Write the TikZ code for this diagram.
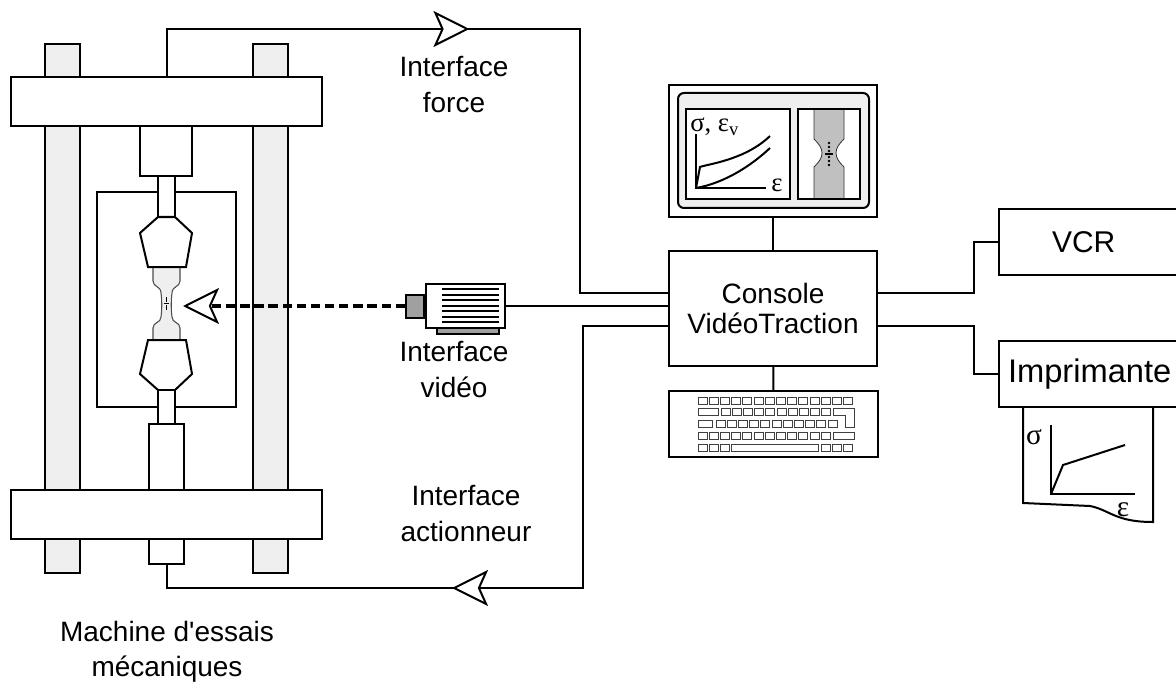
\documentclass[tikz,border=0pt]{standalone}
\usepackage{fontspec}
\setmainfont{Liberation Sans}[Ligatures=TeXOff]
\newfontfamily\greekfont{Liberation Serif}
\usetikzlibrary{arrows.meta}
\usetikzlibrary{calc}
\usetikzlibrary{decorations.markings}
\newcommand{\unitpx}{0.75pt}
\definecolor{framegray}{RGB}{239,239,239}
\definecolor{lensgray}{RGB}{160,160,160}
\definecolor{screengray}{RGB}{192,192,192}
\tikzset{
    OpenHead/.tip={Stealth[length=27pt,width=27pt,inset=6pt,fill=white,line width=1.5pt]},
    link/.style={line width=1.5pt},
    part/.style={draw,line width=1.5pt,fill=white,inner sep=0pt},
    box/.style={part,font=\fontsize{21}{22}\selectfont,align=center},
    lbl/.style={font=\fontsize{21}{27}\selectfont,align=center},
    sym/.style={inner sep=0pt,font=\fontsize{20}{20}\selectfont\greekfont},
    key/.style={draw=black!75,line width=0.6pt},
    flow arrow/.style={
        postaction={
            decorate,decoration={
                markings,mark=at position #1 with {\arrow{OpenHead}}
            }
        }
    },
}

\begin{document}
\begin{tikzpicture}[x=\unitpx,y=-\unitpx]
\useasboundingbox (0,0) rectangle (1176,684);
\clip (0,0) rectangle (1176,684);
% testing machine
\draw[part,fill=framegray] (45,44) rectangle (80,573);
\draw[part,fill=framegray] (253,44) rectangle (288,573);
\node[part,minimum width=311*\unitpx,minimum height=49*\unitpx] (crosstop) at (166.5,101.5) {};
\node[part,minimum width=311*\unitpx,minimum height=49*\unitpx] (crossbot) at (166.5,514.5) {};
\draw[part] (140,126) rectangle (192,176);
\draw[part] (97,192) rectangle (236,407);
\draw[part] (158,176) rectangle (175,217);
\draw[draw=black!70,line width=0.8pt,fill=framegray] (153,267) -- (153,281) .. controls (153,287) and (161,286) .. (161,293) .. controls (162,300) and (162,310) .. (161,317) .. controls (161,323) and (153,322) .. (153,328) -- (153,340) -- (180,340) -- (180,328) .. controls (180,322) and (172,323) .. (172,317) .. controls (171,310) and (171,300) .. (172,293) .. controls (172,286) and (180,287) .. (180,281) -- (180,267) -- cycle;
\draw[line width=0.6pt] (166.5,297) -- (166.5,302) (166.5,305) -- (166.5,310) (164,303.5) -- (169,303.5);
\draw[part] (158,217) -- (140,233) -- (148,267) -- (186,267) -- (192,233) -- (175,217) -- cycle;
\draw[part] (148,340) -- (186,340) -- (192,374) -- (175,390) -- (158,390) -- (140,374) -- cycle;
\draw[part] (158,390) rectangle (175,424);
\draw[part] (149,424) rectangle (184,490);
\node[part,minimum width=311*\unitpx,minimum height=49*\unitpx] at (crossbot) {};
\node[part,minimum width=35*\unitpx,minimum height=25*\unitpx] (actbox) at (166.5,551.5) {};
\node[lbl,font=\fontsize{21}{26.5}\selectfont] (lmachine) at (167,652) {Machine d'essais\\mécaniques};

% camera
\node[part,minimum width=79*\unitpx,minimum height=44*\unitpx] (cam) at (465.5,306) {};
\node[part,fill=lensgray,minimum width=18*\unitpx,minimum height=23*\unitpx,anchor=east] (lens) at (cam.west) {};
\draw[part,fill=lensgray] (437,328) rectangle (499,334);
\foreach \k in {0,...,6}
    \draw[line width=1.5pt] (442,289+5.5*\k) -- (499,289+5.5*\k);
\coordinate (view) at (183,306);
\draw[line width=2.4pt,dash pattern=on 7pt off 3.6pt,-{OpenHead}] (lens.west) -- (view);

% console, screen and keyboard
\node[box,minimum width=208*\unitpx,minimum height=115*\unitpx] (console) at (773,308.5) {Console\\VidéoTraction};
\node[part,minimum width=208*\unitpx,minimum height=132*\unitpx] (monitor) at (773,151) {};
\draw[line width=1.5pt,fill=framegray,rounded corners=6*\unitpx] (678,93) rectangle (869,208);
\draw[part] (686,109) rectangle (790,199);
\draw[part] (798,109) rectangle (860,199);
\draw[draw=black!80,line width=0.6pt,fill=screengray] (814,109) -- (814,139) .. controls (819,144) and (822,148) .. (822,153) .. controls (822,158) and (819,162) .. (814,167) -- (814,199) -- (844,199) -- (844,167) .. controls (839,162) and (836,158) .. (836,153) .. controls (836,148) and (839,144) .. (844,139) -- (844,109) -- cycle;
\draw[line width=1.5pt] (798,109) rectangle (860,199);
\foreach \y in {143,147,151,157,161,165}
    \fill (829,\y) circle (1.4);
\draw[line width=0.8pt] (825,154) -- (833,154);
\draw[line width=1.5pt] (696,134) -- (696,188) -- (766,188);
\draw[line width=1.5pt] (696,188) -- (700,167) .. controls (708,164) and (745,160) .. (770,136);
\draw[line width=1.5pt] (696,188) .. controls (725,183) and (752,165) .. (770,148);
\node[sym,anchor=west] (ysig) at (690,127) {σ, ε\textsubscript{v}};
\node[sym] (xeps) at (777,185) {ε};

\node[part,minimum width=209*\unitpx,minimum height=66*\unitpx] (kbd) at (773.5,424) {};
\foreach \i in {0,...,13}
    \draw[key] (698+11.2*\i,397) rectangle ++(9,7);
\draw[key] (698,408) rectangle ++(20,7);
\foreach \i in {0,...,9}
    \draw[key] (721+11.2*\i,408) rectangle ++(9,7);
\draw[key] (833,408) -- (854,408) -- (854,427) -- (845,427) -- (845,415) -- (833,415) -- cycle;
\draw[key] (698,420) rectangle ++(14,7);
\foreach \i in {0,...,10}
    \draw[key] (716+11.2*\i,420) rectangle ++(9,7);
\foreach \i in {0,...,11}
    \draw[key] (698+11.2*\i,432) rectangle ++(9,7);
\draw[key] (833,432) rectangle (854,439);
\foreach \i in {0,1,2}
    \draw[key] (698+11.2*\i,444) rectangle ++(9,7);
\draw[key] (731.6,444) rectangle (818,451);
\foreach \i in {0,1,2}
    \draw[key] (821+11.2*\i,444) rectangle ++(9,7);

% recorder and printer
\node[box,anchor=west,minimum height=66*\unitpx,inner xsep=53*\unitpx,text width=86*\unitpx,align=left,font=\fontsize{22.5}{24}\selectfont] (vcr) at (998,242) {VCR};
\draw[line width=1.5pt,fill=white] (1023,407) -- (1023,503) -- (1090,506) .. controls (1110,510) and (1115,522) .. (1153,522) -- (1153,407);
\node[box,anchor=west,minimum height=66*\unitpx,inner xsep=9*\unitpx,text width=174*\unitpx,align=left,font=\fontsize{24.5}{26}\selectfont] (prn) at (998,374) {Imprimante};
\draw[line width=1.5pt] (1051,425) -- (1051,494) -- (1135,494);
\draw[line width=1.5pt] (1051,494) -- (1063,465) -- (1125,445);
\node[sym,font=\fontsize{22}{22}\selectfont\greekfont] (psig) at (1034,437) {σ};
\node[sym,font=\fontsize{22}{22}\selectfont\greekfont] (peps) at (1123,510) {ε};

% connections
\draw[link] (monitor) -- (console);
\draw[link] (console) -- (kbd);
\draw[link] (cam) -- (cam -| console.west);
\draw[link] ($(console.east)+(0,-16)$) -- ++(96,0) |- (vcr.west);
\draw[link] ($(console.east)+(0,17)$) -- ++(96,0) |- (prn.west);
\draw[link,flow arrow=0.431] (crosstop.north) |- (580,29) |- ($(console.west)+(0,-16)$);
\draw[link,flow arrow=0.608] ($(console.west)+(0,17)$) -| (583,588) -| (actbox.south);

\node[lbl] (lforce) at (454,85) {Interface\\force};
\node[lbl] (lvideo) at (454,370) {Interface\\vidéo};
\node[lbl] (lact) at (466,513.5) {Interface\\actionneur};
\end{tikzpicture}
\end{document}
